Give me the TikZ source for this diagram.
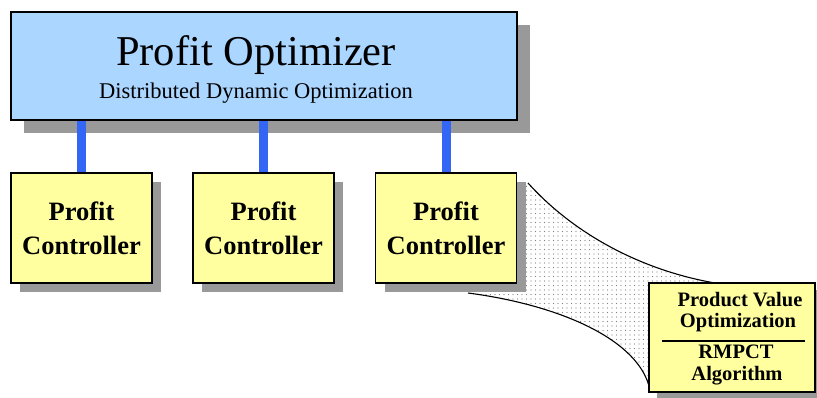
\documentclass[tikz,border=0pt]{standalone}
\usepackage{fontspec}
\setmainfont{Liberation Serif}
\usetikzlibrary{shadows,patterns.meta}
\definecolor{boxblue}{RGB}{170,214,255}
\definecolor{boxyellow}{RGB}{255,255,160}
\definecolor{shadowgray}{RGB}{153,153,153}
\definecolor{connblue}{RGB}{51,102,245}
\tikzset{
  optbox/.style={draw=black, line width=1.2pt, fill=boxblue, inner sep=0pt,
    minimum width=506pt, minimum height=108pt,
    drop shadow={shadow xshift=13pt, shadow yshift=-13pt, fill=shadowgray, opacity=1}},
  ctrlbox/.style={draw=black, line width=1.2pt, fill=boxyellow, inner sep=0pt,
    minimum width=141pt, minimum height=110pt, align=center,
    font=\fontsize{26.5}{34}\selectfont\bfseries,
    drop shadow={shadow xshift=9pt, shadow yshift=-9pt, fill=shadowgray, opacity=1}},
  pvbox/.style={draw=black, line width=1.2pt, fill=boxyellow, inner sep=0pt,
    minimum width=166pt, minimum height=109pt,
    drop shadow={shadow xshift=8pt, shadow yshift=-7pt, fill=shadowgray, opacity=1}},
  pvtext/.style={anchor=base, inner sep=0pt, font=\fontsize{20.5}{22}\selectfont\bfseries},
  conn/.style={draw=connblue, line width=9pt},
  funnel/.style={pattern={Dots[distance=4.5pt, radius=0.65pt]}, pattern color=gray},
  edgeline/.style={draw=black, line width=1.1pt}
}
\begin{document}
\begin{tikzpicture}[x=1pt, y=-1pt]
\fill[white] (0,0) rectangle (817,398);
\useasboundingbox (0,0) rectangle (817,398);
% funnel fill
\coordinate (ft0) at (528,183);
\coordinate (ft1) at (715,283);
\coordinate (fb0) at (468,293);
\coordinate (fb1) at (650,390);
\fill[funnel] (ft0) .. controls (573,233) and (640,270) .. (ft1)
  -- (700,340) -- (fb1) .. controls (640,340) and (560,305) .. (fb0)
  -- (520,292) -- (520,183) -- cycle;
\draw[edgeline] (ft0) .. controls (573,233) and (640,270) .. (ft1);
\draw[edgeline] (fb0) .. controls (560,305) and (640,340) .. (fb1);
% top box
\node[optbox] (top) at (264,66) {};
\node[anchor=base, inner sep=0pt, font=\fontsize{42.5}{45}\selectfont] (title) at (256,66) {Profit Optimizer};
\node[anchor=base, inner sep=0pt, font=\fontsize{22.5}{24}\selectfont] (sub) at (256,99) {Distributed Dynamic Optimization};
% controllers
\node[ctrlbox] (c1) at (81.5,228) {Profit\\Controller};
\node[ctrlbox] (c2) at (263.5,228) {Profit\\Controller};
\node[ctrlbox] (c3) at (446,228) {Profit\\Controller};
% connectors
\draw[conn] (c1.north) -- (c1.north |- top.south);
\draw[conn] (c2.north) -- (c2.north |- top.south);
\draw[conn] (c3.north) -- (c3.north |- top.south);
% product value box
\node[pvbox] (pv) at (732,337.5) {};
\node[pvtext] (pv1) at (740,306) {Product Value};
\node[pvtext] (pv2) at (738,327) {Optimization};
\coordinate (pl1) at (662,341);
\coordinate (pl2) at (805,341);
\draw[line width=1.1pt] (pl1) -- (pl2);
\node[pvtext] (pv3) at (736,358) {RMPCT};
\node[pvtext] (pv4) at (737,380) {Algorithm};
\end{tikzpicture}
\end{document}
